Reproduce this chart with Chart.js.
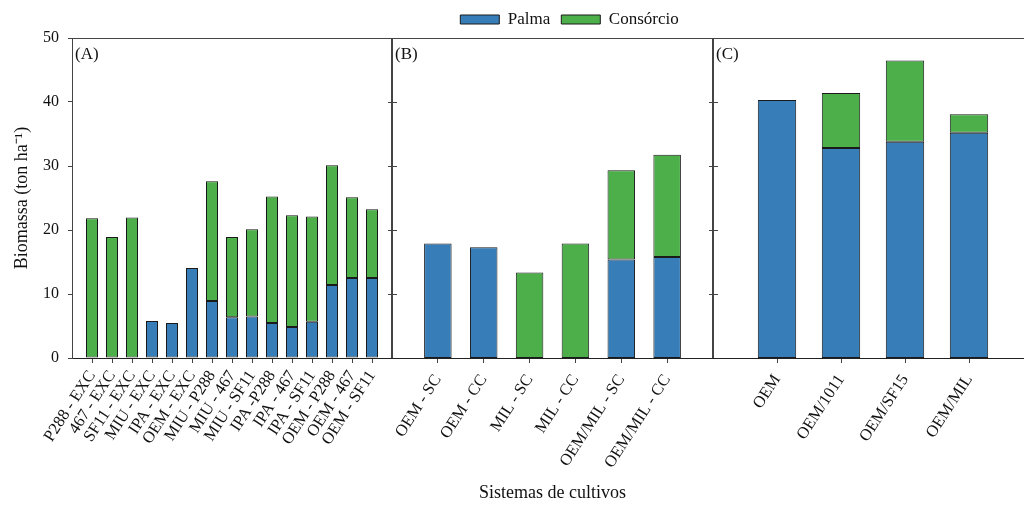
<!DOCTYPE html>
<html>
<head>
<meta charset="utf-8">
<script src="https://cdn.jsdelivr.net/npm/chart.js@4.4.1/dist/chart.umd.min.js"></script>
<style>
  html, body { margin: 0; padding: 0; background: #fff; width: 1024px; height: 507px; overflow: hidden; }
  .box { position: absolute; top: 0; height: 507px; }
</style>
</head>
<body>
<div class="box" style="left:0;width:402px"><canvas id="chartA"></canvas></div>
<div class="box" style="left:382px;width:341px"><canvas id="chartB"></canvas></div>
<div class="box" style="left:703px;width:340px"><canvas id="chartC"></canvas></div>
<script>
// dados (ton/ha)
const categoriasA = ["P288 - EXC", "467 - EXC", "SF11 - EXC", "MIU - EXC", "IPA - EXC", "OEM - EXC",
  "MIU - P288", "MIU - 467", "MIU - SF11", "IPA -P288", "IPA - 467", "IPA - SF11",
  "OEM - P288", "OEM - 467", "OEM - SF11"];
const palmaA = [0, 0, 0, 5.8, 5.45, 14.05, 8.9, 6.35, 6.5, 5.45, 4.85, 5.65, 11.4, 12.5, 12.5];
const consorcioA = [21.85, 18.9, 21.95, 0, 0, 0, 18.7, 12.55, 13.6, 19.8, 17.45, 16.45, 18.7, 12.6, 10.75];

const categoriasB = ["OEM - SC", "OEM - CC", "MIL - SC", "MIL - CC", "OEM/MIL - SC", "OEM/MIL - CC"];
const palmaB = [17.9, 17.3, 0, 0, 15.4, 15.8];
const consorcioB = [0, 0, 13.35, 17.9, 13.95, 15.95];

const categoriasC = ["OEM", "OEM/1011", "OEM/SF15", "OEM/MIL"];
const palmaC = [40.3, 32.8, 33.8, 35.2];
const consorcioC = [0, 8.6, 12.7, 2.9];

const yTicks = [0, 10, 20, 30, 40, 50];

const serif = "'Liberation Serif', 'Times New Roman', serif";
const corPalma = '#377EB8';
const corConsorcio = '#4DAF4A';
const corLinha = '#444';

// contorno do painel, letra e marcas nas divisorias
const painelPlugin = {
  id: 'painel',
  afterDraw(chart, args, opts) {
    const {ctx, chartArea: a} = chart;
    ctx.save();
    ctx.strokeStyle = corLinha;
    ctx.lineWidth = 1;
    ctx.beginPath();
    ctx.moveTo(a.left, a.top + 0.5);
    ctx.lineTo(a.right, a.top + 0.5);
    ctx.moveTo(a.right - 0.5, a.top);
    ctx.lineTo(a.right - 0.5, a.bottom);
    if (opts.divisoria) {
      ctx.moveTo(a.left + 0.5, a.top);
      ctx.lineTo(a.left + 0.5, a.bottom);
      const y = chart.scales.y;
      yTicks.slice(1, -1).forEach(v => {
        const py = Math.round(y.getPixelForValue(v)) + 0.5;
        ctx.moveTo(a.left - 4, py);
        ctx.lineTo(a.left + 5, py);
      });
    }
    ctx.stroke();
    ctx.fillStyle = '#111';
    ctx.font = '17px ' + serif;
    ctx.textBaseline = 'top';
    ctx.textAlign = 'left';
    ctx.fillText(opts.texto, a.left + 3, a.top + 8);
    ctx.restore();
  }
};

// desloca a legenda para a direita como na figura
const legendaPlugin = {
  id: 'legendaDesloc',
  afterLayout(chart) {
    if (chart.legend) { chart.legend.left += 17; chart.legend.right += 17; }
  }
};

function montaGrafico(id, categorias, palma, consorcio, cfg) {
  const n = categorias.length;
  const ds = (label, vals, cor) => ({
    label: label,
    data: vals.map((v, i) => ({x: i + 1, y: v})),
    backgroundColor: cor,
    borderColor: '#1a1a1a',
    borderWidth: 1,
    borderSkipped: false,
    barPercentage: 0.6,
    categoryPercentage: 1
  });
  return new Chart(document.getElementById(id), {
    type: 'bar',
    data: {
      datasets: [ds('Palma', palma, corPalma), ds('Consórcio', consorcio, corConsorcio)]
    },
    options: {
      responsive: true,
      maintainAspectRatio: false,
      animation: false,
      layout: {padding: cfg.padding},
      plugins: {
        legend: {
          display: !!cfg.legenda,
          position: 'top',
          labels: {
            boxWidth: 39, boxHeight: 9, padding: 11,
            color: '#111',
            font: {family: serif, size: 17}
          }
        },
        tooltip: {enabled: false},
        painel: {texto: cfg.letra, divisoria: cfg.divisoria}
      },
      scales: {
        x: {
          type: 'linear',
          stacked: true,
          offset: false,
          min: 0,
          max: n + 1,
          afterBuildTicks: s => { s.ticks = categorias.map((c, i) => ({value: i + 1})); },
          afterFit: s => { s.height = 149; s.paddingLeft = 0; s.paddingRight = 0; },
          ticks: {
            autoSkip: false,
            minRotation: 57,
            maxRotation: 57,
            padding: cfg.padTick,
            color: '#111',
            font: {family: serif, size: 16.5},
            callback: v => categorias[v - 1] || ''
          },
          grid: {display: true, offset: false, drawOnChartArea: false, drawTicks: true, tickLength: 5, color: corLinha},
          border: {display: true, color: '#222'},
          title: {
            display: !!cfg.tituloX,
            text: cfg.tituloX || '',
            color: '#111',
            font: {family: serif, size: 18},
            padding: {top: 4, bottom: 3}
          }
        },
        y: {
          stacked: true,
          min: 0,
          max: 50,
          display: !!cfg.eixoY,
          afterBuildTicks: s => { s.ticks = yTicks.map(v => ({value: v})); },
          afterFit: s => { s.width = cfg.eixoY ? 72 : 0; s.paddingTop = 0; s.paddingBottom = 0; },
          ticks: {
            padding: 9,
            color: '#111',
            font: {family: serif, size: 16}
          },
          grid: {display: true, drawOnChartArea: false, drawTicks: true, tickLength: 4, color: corLinha},
          border: {display: true, color: corLinha},
          title: {
            display: !!cfg.eixoY,
            text: 'Biomassa (ton ha⁻¹)',
            color: '#111',
            font: {family: serif, size: 18},
            padding: {top: 11, bottom: 0}
          }
        }
      }
    },
    plugins: [painelPlugin, legendaPlugin]
  });
}

montaGrafico('chartA', categoriasA, palmaA, consorcioA, {
  letra: '(A)', eixoY: true, padTick: 4, padding: {top: 38, right: 10, bottom: 0, left: 0}
});
montaGrafico('chartB', categoriasB, palmaB, consorcioB, {
  letra: '(B)', divisoria: true, legenda: true, tituloX: 'Sistemas de cultivos', padTick: 8,
  padding: {top: 0, right: 10, bottom: 0, left: 10}
});
montaGrafico('chartC', categoriasC, palmaC, consorcioC, {
  letra: '(C)', divisoria: true, padTick: 8, padding: {top: 38, right: 10, bottom: 0, left: 10}
});
</script>
</body>
</html>
